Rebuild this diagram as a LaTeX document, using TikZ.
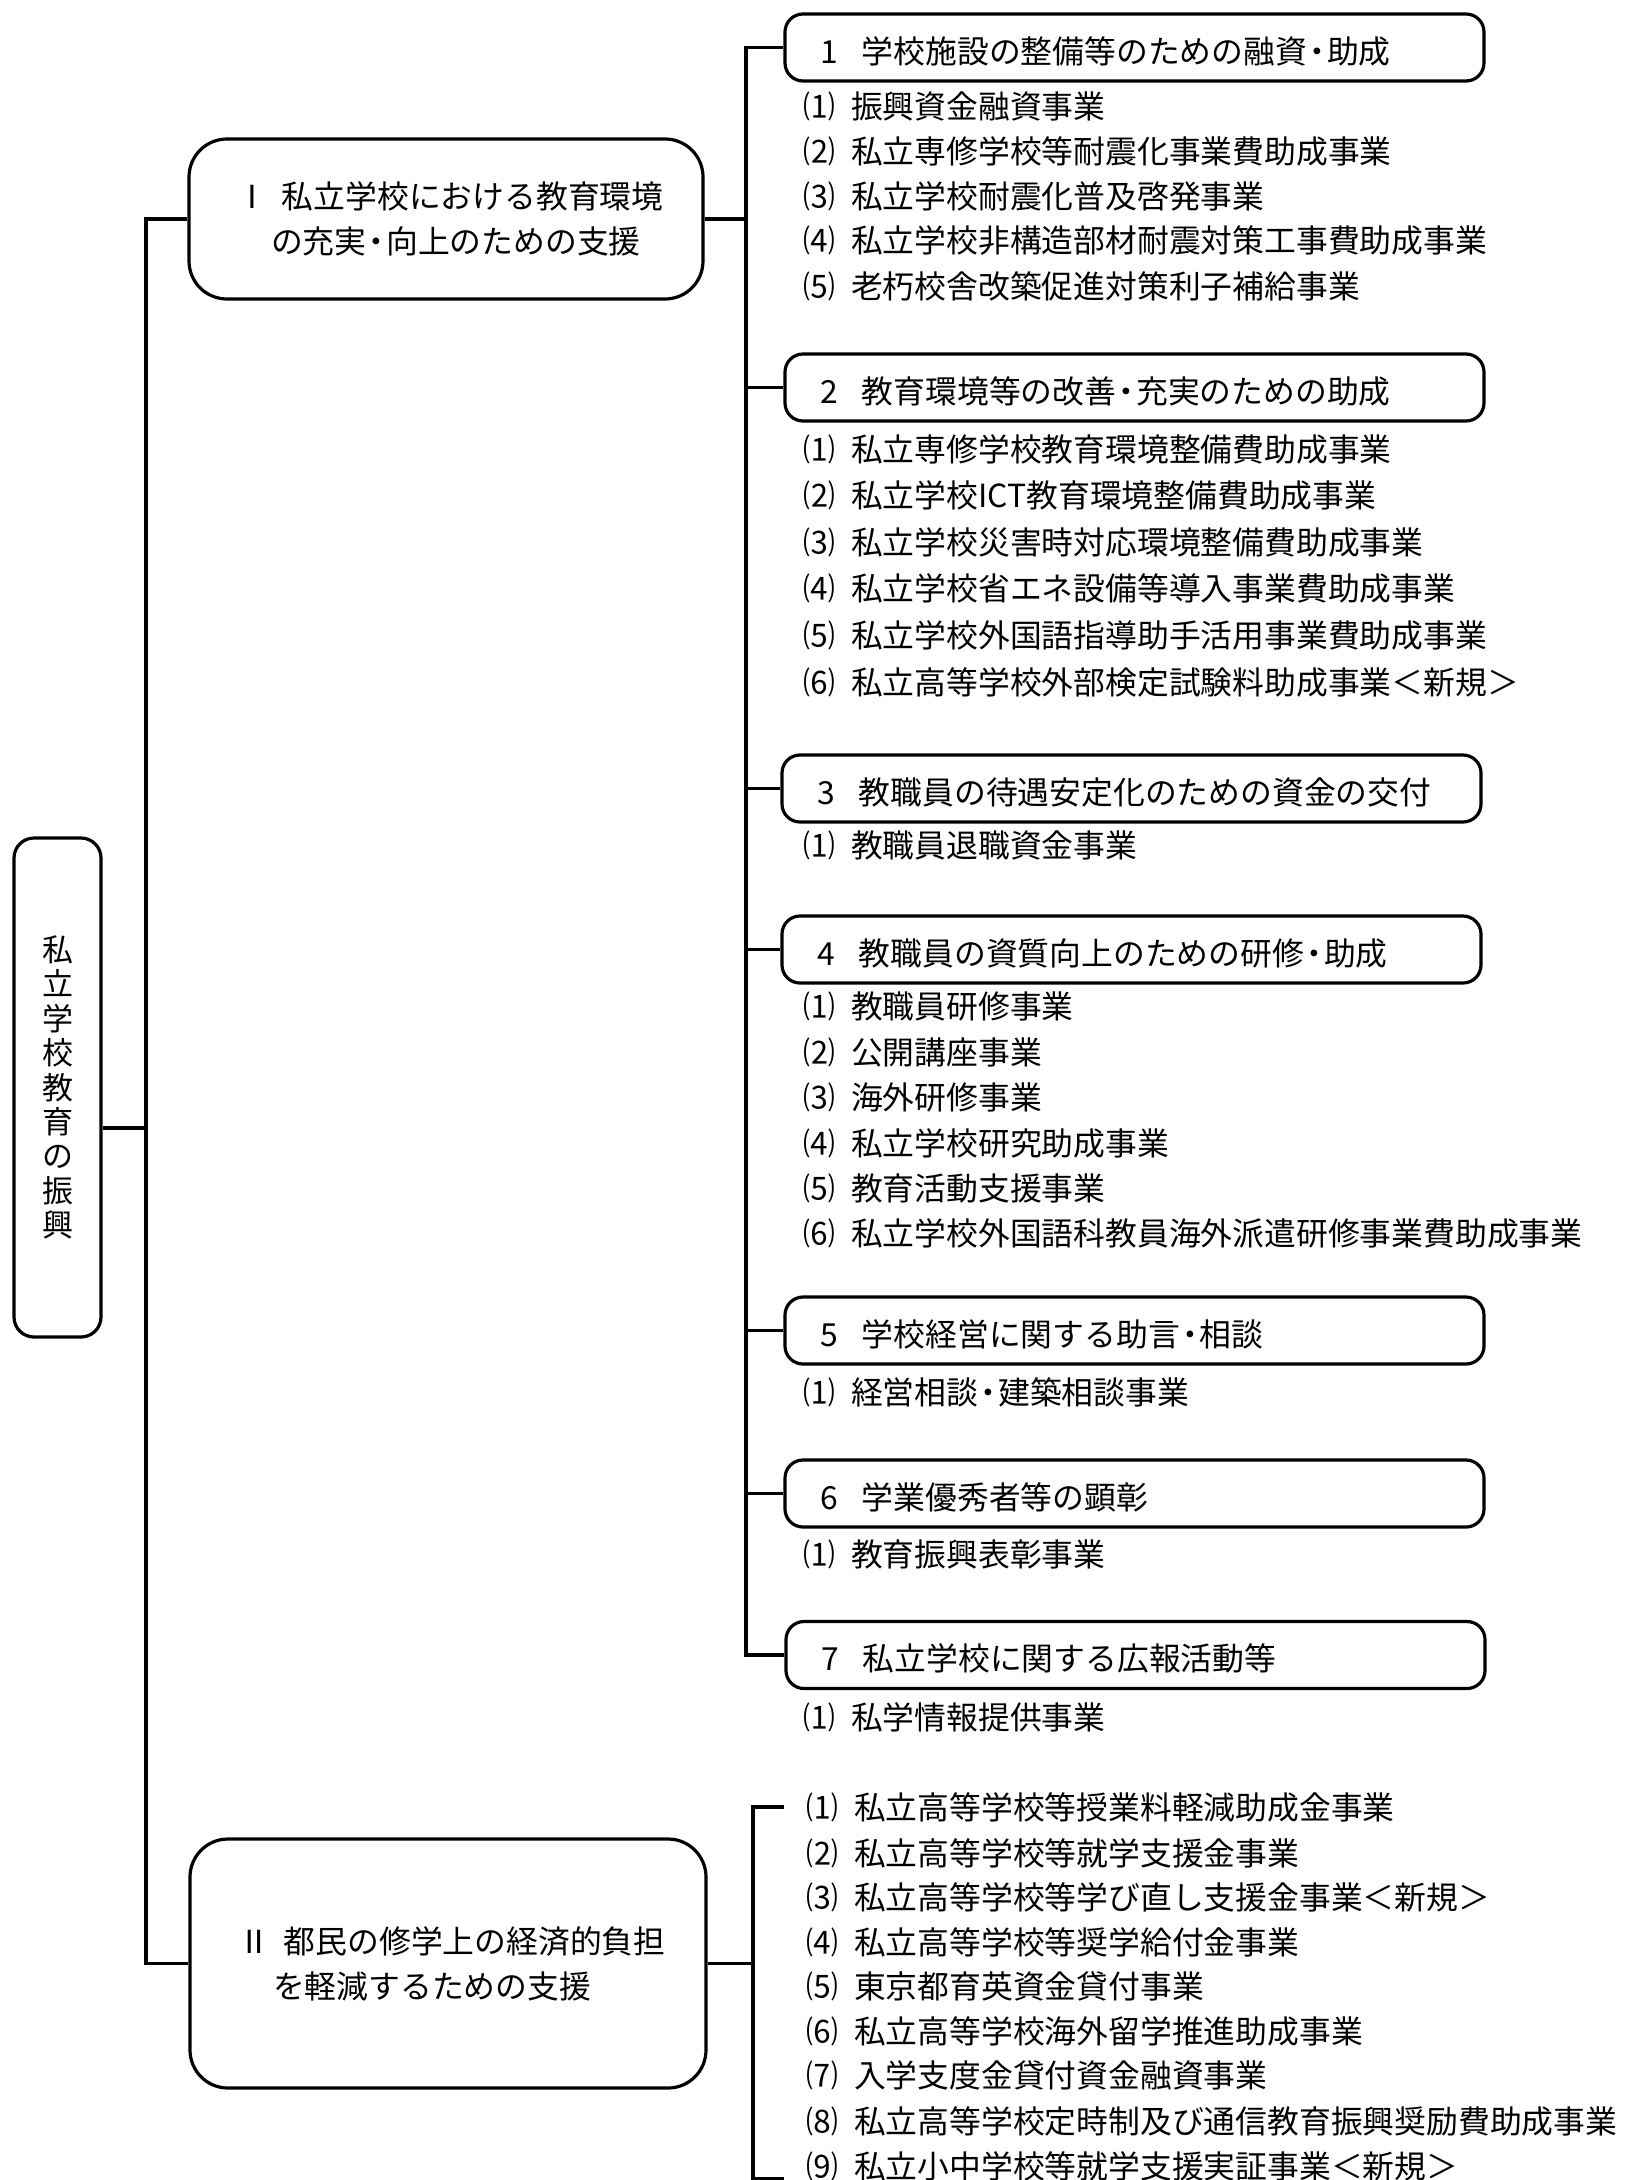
\documentclass[tikz,border=0pt]{standalone}
\usepackage{fontspec}
\setmainfont{Noto Sans CJK JP}
\begin{document}
\begin{tikzpicture}[x=1pt,y=-1pt,
  ln/.style={line width=3.2pt},
  rootbox/.style={draw,line width=3.2pt,rounded corners=20pt,minimum width=87pt,minimum height=499pt,inner sep=0pt,align=center,font=\fontsize{31}{34.4}\selectfont},
  secbox/.style={draw,line width=3.2pt,rounded corners=38pt,minimum width=514pt,inner xsep=47pt,inner ysep=0pt,align=left,font=\fontsize{31.8}{45}\selectfont},
  catbox/.style={draw,line width=3.2pt,rounded corners=18pt,minimum width=699pt,minimum height=67pt,inner xsep=35pt,inner ysep=0pt,text height=35pt,text depth=4pt,font=\fontsize{31.8}{36}\selectfont},
  itm/.style={anchor=west,inner sep=0pt,font=\fontsize{31.8}{36}\selectfont},
]
\useasboundingbox (0,0) rectangle (1636,2180);
\newcommand{\pn}[1]{\makebox[48pt][l]{#1}}
\newcommand{\cn}[2]{\makebox[629pt][l]{\makebox[42pt][l]{#1}#2}}
\newcommand{\md}{\hspace{-6pt}・\hspace{-6pt}}

% root
\node[rootbox] (root) at (57.5,1087.5) {私\\立\\学\\校\\教\\育\\の\\振\\興};

% sections
\node[secbox,minimum height=160pt] (s1) at (446,219) {\makebox[420pt][l]{\makebox[46pt][l]{Ⅰ}私立学校における教育環境}\\\makebox[420pt][l]{\hspace*{35pt}の充実\md 向上のための支援}};
\node[secbox,minimum height=249pt,minimum width=516pt] (s2) at (448,1963.5) {\makebox[420pt][l]{\makebox[46pt][l]{Ⅱ}都民の修学上の経済的負担}\\\makebox[420pt][l]{\hspace*{35pt}を軽減するための支援}};

% category boxes
\node[catbox] (b1) at (1134.5,47.5) {\cn{1}{学校施設の整備等のための融資\md 助成}};
\node[catbox] (b2) at (1134.5,387.5) {\cn{2}{教育環境等の改善\md 充実のための助成}};
\node[catbox] (b3) at (1131.5,788.5) {\cn{3}{教職員の待遇安定化のための資金の交付}};
\node[catbox] (b4) at (1131.5,949.5) {\cn{4}{教職員の資質向上のための研修\md 助成}};
\node[catbox] (b5) at (1134.5,1330.5) {\cn{5}{学校経営に関する助言\md 相談}};
\node[catbox] (b6) at (1134.5,1493.5) {\cn{6}{学業優秀者等の顕彰}};
\node[catbox] (b7) at (1135.5,1655) {\cn{7}{私立学校に関する広報活動等}};

% items of section I
\node[itm] (a11) at (803,106) {\pn{⑴}振興資金融資事業};
\node[itm] (a12) at (803,151) {\pn{⑵}私立専修学校等耐震化事業費助成事業};
\node[itm] (a13) at (803,196) {\pn{⑶}私立学校耐震化普及啓発事業};
\node[itm] (a14) at (803,241) {\pn{⑷}私立学校非構造部材耐震対策工事費助成事業};
\node[itm] (a15) at (803,286) {\pn{⑸}老朽校舎改築促進対策利子補給事業};

\node[itm] (a21) at (803,449) {\pn{⑴}私立専修学校教育環境整備費助成事業};
\node[itm] (a22) at (803,495) {\pn{⑵}私立学校ICT教育環境整備費助成事業};
\node[itm] (a23) at (803,542) {\pn{⑶}私立学校災害時対応環境整備費助成事業};
\node[itm] (a24) at (803,588) {\pn{⑷}私立学校省エネ設備等導入事業費助成事業};
\node[itm] (a25) at (803,635) {\pn{⑸}私立学校外国語指導助手活用事業費助成事業};
\node[itm] (a26) at (803,682) {\pn{⑹}私立高等学校外部検定試験料助成事業＜新規＞};

\node[itm] (a31) at (803,845) {\pn{⑴}教職員退職資金事業};

\node[itm] (a41) at (803,1006) {\pn{⑴}教職員研修事業};
\node[itm] (a42) at (803,1052) {\pn{⑵}公開講座事業};
\node[itm] (a43) at (803,1097) {\pn{⑶}海外研修事業};
\node[itm] (a44) at (803,1143) {\pn{⑷}私立学校研究助成事業};
\node[itm] (a45) at (803,1188) {\pn{⑸}教育活動支援事業};
\node[itm] (a46) at (803,1233) {\pn{⑹}私立学校外国語科教員海外派遣研修事業費助成事業};

\node[itm] (a51) at (803,1392) {\pn{⑴}経営相談\md 建築相談事業};
\node[itm] (a61) at (803,1554) {\pn{⑴}教育振興表彰事業};
\node[itm] (a71) at (803,1717) {\pn{⑴}私学情報提供事業};

% items of section II
\node[itm] (c1) at (806,1807) {\pn{⑴}私立高等学校等授業料軽減助成金事業};
\node[itm] (c2) at (806,1853) {\pn{⑵}私立高等学校等就学支援金事業};
\node[itm] (c3) at (806,1897) {\pn{⑶}私立高等学校等学び直し支援金事業＜新規＞};
\node[itm] (c4) at (806,1942) {\pn{⑷}私立高等学校等奨学給付金事業};
\node[itm] (c5) at (806,1986) {\pn{⑸}東京都育英資金貸付事業};
\node[itm] (c6) at (806,2031) {\pn{⑹}私立高等学校海外留学推進助成事業};
\node[itm] (c7) at (806,2075) {\pn{⑺}入学支度金貸付資金融資事業};
\node[itm] (c8) at (806,2121) {\pn{⑻}私立高等学校定時制及び通信教育振興奨励費助成事業};
\node[itm] (c9) at (806,2166) {\pn{⑼}私立小中学校等就学支援実証事業＜新規＞};

% connectors
\coordinate (tr) at (146,1128);
\draw[ln] (root.east |- tr) -- (tr);
\draw[ln] (s1.west) -- (s1.west -| tr) -- (s2.west -| tr) -- (s2.west);

\coordinate (v1) at (746,0);
\draw[ln] (s1.east) -- (s1.east -| v1);
\draw[ln] (b1.west) -- (b1.west -| v1) -- (b7.west -| v1) -- (b7.west);
\foreach \b in {b2,b3,b4,b5,b6} \draw[ln] (\b.west) -- (\b.west -| v1);

\coordinate (v2) at (753,0);
\coordinate (t2) at (784,1807);
\coordinate (e2) at (784,2179);
\draw[ln] (s2.east) -- (s2.east -| v2);
\draw[ln] (t2) -- (t2 -| v2) -- (e2 -| v2) -- (e2);
\end{tikzpicture}
\end{document}
